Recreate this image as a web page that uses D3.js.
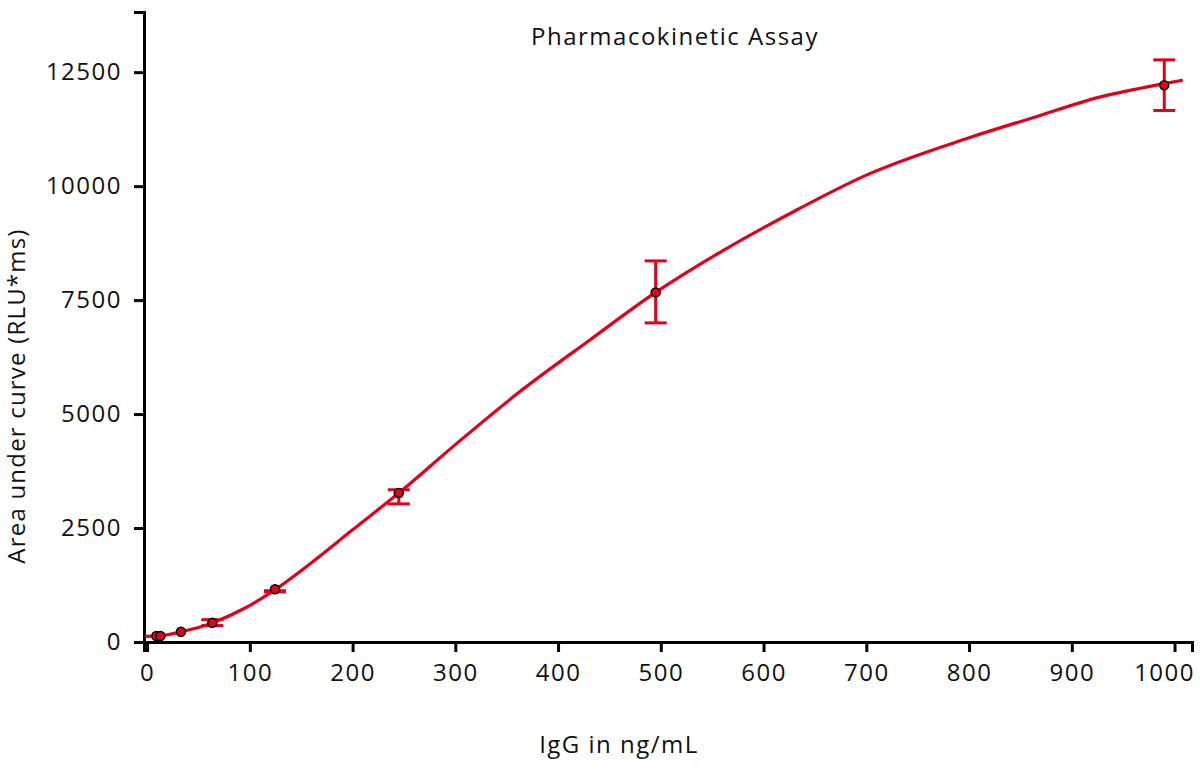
<!DOCTYPE html>
<html>
<head>
<meta charset="utf-8">
<script src="https://cdn.jsdelivr.net/npm/d3@7"></script>
<style>
  body { margin: 0; background: #fff; }
  svg text { font-family: "Open Sans", sans-serif; fill: #111; }
</style>
</head>
<body>
<div id="chart"></div>
<script>
// measured points (IgG ng/mL vs area under curve)
const conc = [9, 13, 33, 63.5, 124.5, 245, 495, 990];
const auc = [130, 130, 226, 423, 1156, 3268, 7669, 12215];
const errLow = [130, 130, 226, 360, 1100, 3030, 7000, 11660];
const errHigh = [130, 130, 226, 490, 1125, 3340, 8360, 12770];

// fitted curve
const fitX = [-2, 10, 20, 33, 50, 64, 95, 125, 160, 200, 245, 300, 361, 430, 495, 560, 630, 700, 798, 863, 928, 990, 1008];
const fitY = [125, 135, 160, 225, 320, 425, 740, 1156, 1740, 2460, 3268, 4330, 5460, 6610, 7669, 8580, 9450, 10241, 11046, 11507, 11958, 12250, 12325];

const xTicks = [0, 100, 200, 300, 400, 500, 600, 700, 800, 900, 1000];
const yTicks = [0, 2500, 5000, 7500, 10000, 12500];

const red = "#e2001a";

const svg = d3.select("#chart").append("svg")
    .attr("width", 1200)
    .attr("height", 778);

const x = d3.scaleLinear().domain([-3, 1017]).range([144, 1192]);
const y = d3.scaleLinear().domain([0, 13820]).range([642, 12]);

// axes
const xAxis = svg.append("g")
    .attr("transform", "translate(0,642)")
    .call(d3.axisBottom(x).tickValues(xTicks).tickFormat(d3.format("d"))
        .tickSizeOuter(0).tickSize(10).tickPadding(12));

const yAxis = svg.append("g")
    .attr("transform", "translate(144,0)")
    .call(d3.axisLeft(y).tickValues(yTicks).tickFormat(d3.format("d"))
        .tickSizeOuter(0).tickSize(10).tickPadding(12));

[xAxis, yAxis].forEach(function (a) {
    a.select(".domain").attr("stroke", "#000").attr("stroke-width", 3);
    a.selectAll(".tick line").attr("stroke", "#000").attr("stroke-width", 3);
    a.selectAll(".tick text")
        .attr("font-size", 24)
        .style("letter-spacing", "1.5px")
        .attr("fill", "#111");
});

// last x label sits a bit left of its tick so it stays on the page
xAxis.selectAll(".tick text")
    .filter(function (d) { return d === 1000 })
    .attr("text-anchor", "end")
    .attr("x", 20);

// fitted line
const line = d3.line()
    .x(function (d) { return x(d[0]) })
    .y(function (d) { return y(d[1]) })
    .curve(d3.curveMonotoneX);

svg.append("path")
    .datum(fitX.map(function (d, i) { return [d, fitY[i]] }))
    .attr("d", line)
    .attr("fill", "none")
    .attr("stroke", red)
    .attr("stroke-width", 3.2);

// error bars
const pts = conc.map(function (d, i) {
    return { c: d, v: auc[i], lo: errLow[i], hi: errHigh[i] };
});

const bars = svg.selectAll("g.err")
    .data(pts.filter(function (d) { return d.hi > d.lo }))
    .join("g")
    .attr("class", "err")
    .attr("stroke", red)
    .attr("stroke-width", 3);

bars.append("line")
    .attr("x1", function (d) { return x(d.c) })
    .attr("x2", function (d) { return x(d.c) })
    .attr("y1", function (d) { return y(d.lo) })
    .attr("y2", function (d) { return y(d.hi) });

bars.append("line")
    .attr("x1", function (d) { return x(d.c) - 11 })
    .attr("x2", function (d) { return x(d.c) + 11 })
    .attr("y1", function (d) { return y(d.lo) })
    .attr("y2", function (d) { return y(d.lo) });

bars.append("line")
    .attr("x1", function (d) { return x(d.c) - 11 })
    .attr("x2", function (d) { return x(d.c) + 11 })
    .attr("y1", function (d) { return y(d.hi) })
    .attr("y2", function (d) { return y(d.hi) });

// points
svg.selectAll("circle.pt")
    .data(pts)
    .join("circle")
    .attr("class", "pt")
    .attr("cx", function (d) { return x(d.c) })
    .attr("cy", function (d) { return y(d.v) })
    .attr("r", 4.5)
    .attr("fill", red)
    .attr("stroke", "#000")
    .attr("stroke-width", 1.5);

// labels
svg.append("text")
    .attr("x", 675)
    .attr("y", 45)
    .attr("text-anchor", "middle")
    .attr("font-size", 24)
    .style("letter-spacing", "1.5px")
    .text("Pharmacokinetic Assay");

svg.append("text")
    .attr("x", 619)
    .attr("y", 753)
    .attr("text-anchor", "middle")
    .attr("font-size", 24)
    .style("letter-spacing", "1.5px")
    .text("IgG in ng/mL");

svg.append("text")
    .attr("transform", "translate(25,396) rotate(-90)")
    .attr("text-anchor", "middle")
    .attr("font-size", 24)
    .style("letter-spacing", "1.2px")
    .text("Area under curve (RLU*ms)");
</script>
</body>
</html>
